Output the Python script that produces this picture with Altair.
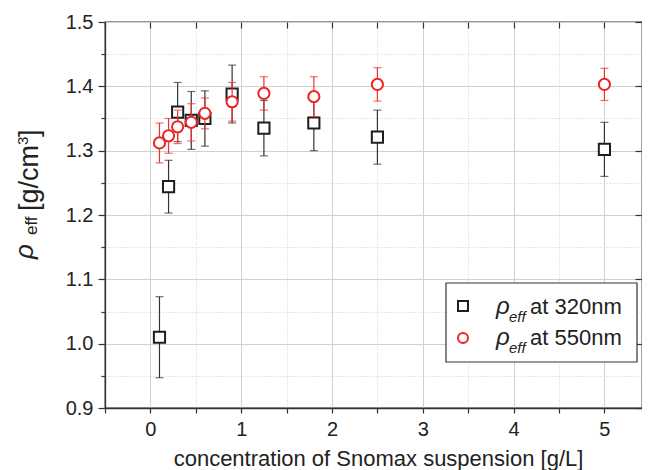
import altair as alt
import pandas as pd

# ---- data ----
conc = [0.1, 0.2, 0.3, 0.45, 0.6, 0.9, 1.25, 1.8, 2.5, 5.0]
rho320 = [1.010, 1.244, 1.360, 1.347, 1.350, 1.388, 1.335, 1.343, 1.321, 1.302]
err320 = [0.063, 0.041, 0.046, 0.045, 0.043, 0.045, 0.043, 0.043, 0.042, 0.042]
rho550 = [1.312, 1.323, 1.337, 1.344, 1.358, 1.376, 1.389, 1.384, 1.403, 1.403]
err550 = [0.031, 0.027, 0.026, 0.029, 0.024, 0.030, 0.026, 0.031, 0.026, 0.025]

x_ticks = [-0.5, 0, 0.5, 1, 1.5, 2, 2.5, 3, 3.5, 4, 4.5, 5]
y_ticks = [0.9, 0.95, 1.0, 1.05, 1.1, 1.15, 1.2, 1.25, 1.3, 1.35, 1.4, 1.45, 1.5]
y_major = [0.9, 1.0, 1.1, 1.2, 1.3, 1.4, 1.5]

x_title = "concentration of Snomax suspension [g/L]"
legend_labels = ["at 320nm", "at 550nm"]

d320 = pd.DataFrame({"c": conc, "v": rho320,
                     "lo": [a - b for a, b in zip(rho320, err320)],
                     "hi": [a + b for a, b in zip(rho320, err320)]})
d550 = pd.DataFrame({"c": conc, "v": rho550,
                     "lo": [a - b for a, b in zip(rho550, err550)],
                     "hi": [a + b for a, b in zip(rho550, err550)]})

FONT = "Liberation Sans"
BLACK = "#1e1e1e"
RED = "#ec2424"
RED_BAR = "#ee3030"

# right end of the frame is cropped in the reference at the picture edge
xs = alt.Scale(domain=[-0.5, 5.414], nice=False, zero=False)
ys = alt.Scale(domain=[0.9, 1.5], nice=False, zero=False)

x_major_test = "abs(datum.value - round(datum.value)) < 0.001"
y_major_test = "abs(datum.value*10 - round(datum.value*10)) < 0.001"

x_axis_bottom = alt.Axis(
    orient="bottom", values=x_ticks,
    labelExpr="abs(datum.value - round(datum.value)) < 0.001 ? format(datum.value, 'd') : ''",
    labelFont=FONT, labelFontSize=20, labelColor="#222", labelPadding=6,
    tickSize=5, tickColor="#333", tickWidth=1.2,
    domainColor="#333", domainWidth=1.3,
    grid=True,
    gridColor={"condition": {"test": x_major_test, "value": "#d0d0d0"}, "value": "#cfcfcf"},
    gridDash={"condition": {"test": x_major_test, "value": []}, "value": [1, 2]},
    gridWidth=1,
    title=x_title, titleFont=FONT, titleFontSize=22, titleFontWeight="normal",
    titleColor="#222", titleBaseline="alphabetic", titleY=57, titleX=273,
)
y_axis_left = alt.Axis(
    orient="left", values=y_ticks,
    labelExpr="abs(datum.value*10 - round(datum.value*10)) < 0.001 ? format(datum.value, '.1f') : ''",
    labelFont=FONT, labelFontSize=20, labelColor="#222", labelPadding=5,
    tickSize={"condition": {"test": y_major_test, "value": 7}, "value": 4},
    tickColor="#333", tickWidth=1.2,
    domainColor="#333", domainWidth=1.3,
    grid=True,
    gridColor={"condition": {"test": y_major_test, "value": "#d0d0d0"}, "value": "#cfcfcf"},
    gridDash={"condition": {"test": y_major_test, "value": []}, "value": [1, 2]},
    gridWidth=1,
    title=None,
)
x_axis_top = alt.Axis(orient="top", values=x_ticks, labels=False, domain=False,
                      tickSize=6, offset=-6, tickColor="#333", tickWidth=1.2,
                      grid=False, title=None)
y_axis_right = alt.Axis(orient="right", values=y_major, labels=False, domain=False,
                        tickSize=7, offset=-7, tickColor="#333", tickWidth=1.2,
                        grid=False, title=None)

base320 = alt.Chart(d320)
base550 = alt.Chart(d550)

bar320 = base320.mark_rule(color="#333", strokeWidth=1.2).encode(
    x=alt.X("c:Q", scale=xs, axis=x_axis_bottom),
    y=alt.Y("lo:Q", scale=ys, axis=y_axis_left),
    y2="hi:Q",
)
cap320lo = base320.mark_tick(color="#333", orient="horizontal", size=8, thickness=1.2).encode(
    x=alt.X("c:Q", scale=xs, axis=None), y=alt.Y("lo:Q", scale=ys, axis=None))
cap320hi = base320.mark_tick(color="#333", orient="horizontal", size=8, thickness=1.2).encode(
    x=alt.X("c:Q", scale=xs, axis=None), y=alt.Y("hi:Q", scale=ys, axis=None))
pts320 = base320.mark_point(shape="square", size=125, filled=False, fill="white",
                            fillOpacity=1, stroke=BLACK, strokeWidth=2, opacity=1).encode(
    x=alt.X("c:Q", scale=xs, axis=None), y=alt.Y("v:Q", scale=ys, axis=None))

bar550 = base550.mark_rule(color=RED_BAR, strokeWidth=1.2).encode(
    x=alt.X("c:Q", scale=xs, axis=None), y=alt.Y("lo:Q", scale=ys, axis=None), y2="hi:Q")
cap550lo = base550.mark_tick(color=RED_BAR, orient="horizontal", size=8, thickness=1.2).encode(
    x=alt.X("c:Q", scale=xs, axis=None), y=alt.Y("lo:Q", scale=ys, axis=None))
cap550hi = base550.mark_tick(color=RED_BAR, orient="horizontal", size=8, thickness=1.2).encode(
    x=alt.X("c:Q", scale=xs, axis=None), y=alt.Y("hi:Q", scale=ys, axis=None))
pts550 = base550.mark_point(shape="circle", size=125, filled=False, fill="white",
                            fillOpacity=1, stroke=RED, strokeWidth=2, opacity=1).encode(
    x=alt.X("c:Q", scale=xs, axis=x_axis_top), y=alt.Y("v:Q", scale=ys, axis=y_axis_right))

one = alt.Chart(pd.DataFrame({"k": [0]}))


def txt(text, x, y, size, italic=False, angle=0, align="left"):
    return one.mark_text(text=text, font=FONT, fontSize=size,
                         fontStyle="italic" if italic else "normal",
                         angle=angle, align=align, baseline="alphabetic",
                         color="#222").encode(x=alt.value(x), y=alt.value(y))


# y-axis title pieces (rotated)
ytitle = [
    txt("\u03c1", -72, 237, 26, italic=True, angle=270),
    txt("eff", -68, 213, 17, angle=270),
    txt("[g/cm", -67.5, 189, 27, angle=270),
    txt("3", -77, 123, 15, angle=270),
    txt("]", -67.5, 115, 27, angle=270),
]

# legend
legend_box = one.mark_rect(fill="white", stroke="#333", strokeWidth=1.2).encode(
    x=alt.value(341), x2=alt.value(532), y=alt.value(261), y2=alt.value(340))
leg_sq = one.mark_point(shape="square", size=100, filled=False, stroke=BLACK,
                        strokeWidth=2, opacity=1).encode(x=alt.value(358), y=alt.value(284))
leg_ci = one.mark_point(shape="circle", size=100, filled=False, stroke=RED,
                        strokeWidth=2, opacity=1).encode(x=alt.value(358), y=alt.value(316))
legend_txt = []
for i, lab in enumerate(legend_labels):
    yb = 292 + 31 * i
    legend_txt += [
        txt("\u03c1", 391, yb, 24, italic=True),
        txt("eff", 404, yb + 8, 15, italic=True),
        txt(lab, 425, yb, 22),
    ]

chart = alt.layer(
    bar320, cap320lo, cap320hi, pts320,
    bar550, cap550lo, cap550hi, pts550,
    legend_box, leg_sq, leg_ci, *legend_txt, *ytitle,
).resolve_axis(x="independent", y="independent").properties(
    width=537, height=386,
    autosize=alt.AutoSizeParams(type="none"),
    padding={"left": 97, "top": 14, "right": 0, "bottom": 62},
).configure_view(stroke="#333", strokeWidth=1.3)

chart.save("out.html", embed_options={"renderer": "svg", "actions": False})
